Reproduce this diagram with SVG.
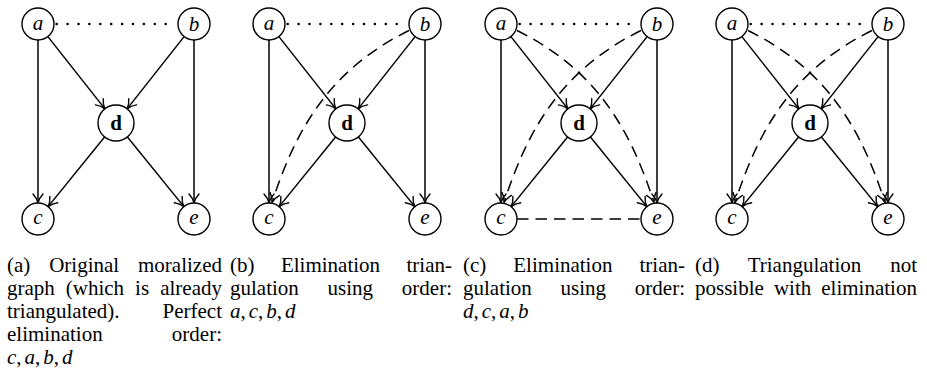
<svg xmlns="http://www.w3.org/2000/svg" width="927" height="377" viewBox="0 0 927 377" font-family="'Liberation Serif', 'DejaVu Serif', serif">
  <style>
    .node circle { fill: #fff; stroke: #000; stroke-width: 1.4; }
    .lbl { font-family: 'Liberation Serif', 'DejaVu Serif', serif; font-size: 21px; font-style: italic; text-anchor: middle; fill: #000; }
    .lbl.bold { font-style: normal; font-weight: bold; }
    .edge { fill: none; stroke: #000; stroke-width: 1.5; }
    .arrow { marker-end: url(#tip); }
    .dash { stroke-dasharray: 11.5 7; }
    .dot { stroke-dasharray: 0 10.9; stroke-linecap: round; stroke-width: 2.6; }
    .cap { font-family: 'Liberation Serif', 'DejaVu Serif', serif; font-size: 21px; fill: #000; }
    .end { text-anchor: end; }
    .it { font-style: italic; }
  </style>
  <defs>
    <!-- curved-barb arrow tip, drawn solid even on dashed edges -->
    <marker id="tip" markerUnits="userSpaceOnUse" markerWidth="14" markerHeight="14" viewBox="-11 -7 14 14" refX="0" refY="0" orient="auto" overflow="visible">
      <path d="M -9 -5 C -5.8 -2 -2 -0.5 0 0 C -2 0.5 -5.8 2 -9 5" fill="none" stroke="#000" stroke-width="1.4" stroke-linecap="round"/>
    </marker>
  </defs>

  <rect width="927" height="377" fill="#fff"/>

  <!-- (a) original moralized graph -->
  <g id="graph-a">
    <g id="edges-a">
      <path class="edge dot" d="M56.7 24 H166"/>
      <path class="edge arrow" d="M38 40 V203"/>
      <path class="edge arrow" d="M194 40 V203"/>
      <path class="edge arrow" d="M47.9 36.6 L104.9 108.9"/>
      <path class="edge arrow" d="M184.1 36.6 L127.1 108.9"/>
      <path class="edge arrow" d="M104.6 137 L48.1 206.6"/>
      <path class="edge arrow" d="M127.4 137 L183.9 206.6"/>
    </g>
    <g id="a-a" class="node"><circle cx="38" cy="24" r="16"/><text class="lbl" x="38" y="29.5">a</text></g>
    <g id="a-b" class="node"><circle cx="194" cy="24" r="16"/><text class="lbl" x="194" y="31">b</text></g>
    <g id="a-d" class="node"><circle cx="116" cy="123" r="18"/><text class="lbl bold" x="116" y="130">d</text></g>
    <g id="a-c" class="node"><circle cx="38" cy="219" r="16"/><text class="lbl" x="38" y="224">c</text></g>
    <g id="a-e" class="node"><circle cx="194" cy="219" r="16"/><text class="lbl" x="194" y="224">e</text></g>
  </g>

  <!-- (b) elimination order a, c, b, d -->
  <g id="graph-b" transform="translate(231 0)">
    <g id="edges-b">
      <path class="edge dot" d="M56.7 24 H166"/>
      <path class="edge arrow" d="M38 40 V203"/>
      <path class="edge arrow" d="M194 40 V203"/>
      <path class="edge arrow" d="M47.9 36.6 L104.9 108.9"/>
      <path class="edge arrow" d="M184.1 36.6 L127.1 108.9"/>
      <path class="edge arrow" d="M104.6 137 L48.1 206.6"/>
      <path class="edge arrow" d="M127.4 137 L183.9 206.6"/>
      <path class="edge dash arrow" d="M178 30.5 C101.5 68.3 66 125 41 202.5"/>
    </g>
    <g id="b-a" class="node"><circle cx="38" cy="24" r="16"/><text class="lbl" x="38" y="29.5">a</text></g>
    <g id="b-b" class="node"><circle cx="194" cy="24" r="16"/><text class="lbl" x="194" y="31">b</text></g>
    <g id="b-d" class="node"><circle cx="116" cy="123" r="18"/><text class="lbl bold" x="116" y="130">d</text></g>
    <g id="b-c" class="node"><circle cx="38" cy="219" r="16"/><text class="lbl" x="38" y="224">c</text></g>
    <g id="b-e" class="node"><circle cx="194" cy="219" r="16"/><text class="lbl" x="194" y="224">e</text></g>
  </g>

  <!-- (c) elimination order d, c, a, b -->
  <g id="graph-c" transform="translate(463 0)">
    <g id="edges-c">
      <path class="edge dot" d="M56.7 24 H166"/>
      <path class="edge arrow" d="M38 40 V203"/>
      <path class="edge arrow" d="M194 40 V203"/>
      <path class="edge arrow" d="M47.9 36.6 L104.9 108.9"/>
      <path class="edge arrow" d="M184.1 36.6 L127.1 108.9"/>
      <path class="edge arrow" d="M104.6 137 L48.1 206.6"/>
      <path class="edge arrow" d="M127.4 137 L183.9 206.6"/>
      <path class="edge dash arrow" d="M178 30.5 C101.5 68.3 66 125 41 202.5"/>
      <path class="edge dash arrow" d="M54 30.5 C130.5 68.3 166 125 191 202.5"/>
      <path class="edge dash" d="M54 219 H178"/>
    </g>
    <g id="c-a" class="node"><circle cx="38" cy="24" r="16"/><text class="lbl" x="38" y="29.5">a</text></g>
    <g id="c-b" class="node"><circle cx="194" cy="24" r="16"/><text class="lbl" x="194" y="31">b</text></g>
    <g id="c-d" class="node"><circle cx="116" cy="123" r="18"/><text class="lbl bold" x="116" y="130">d</text></g>
    <g id="c-c" class="node"><circle cx="38" cy="219" r="16"/><text class="lbl" x="38" y="224">c</text></g>
    <g id="c-e" class="node"><circle cx="194" cy="219" r="16"/><text class="lbl" x="194" y="224">e</text></g>
  </g>

  <!-- (d) triangulation without an elimination order -->
  <g id="graph-d" transform="translate(694 0)">
    <g id="edges-d">
      <path class="edge dot" d="M56.7 24 H166"/>
      <path class="edge arrow" d="M38 40 V203"/>
      <path class="edge arrow" d="M194 40 V203"/>
      <path class="edge arrow" d="M47.9 36.6 L104.9 108.9"/>
      <path class="edge arrow" d="M184.1 36.6 L127.1 108.9"/>
      <path class="edge arrow" d="M104.6 137 L48.1 206.6"/>
      <path class="edge arrow" d="M127.4 137 L183.9 206.6"/>
      <path class="edge dash arrow" d="M178 30.5 C101.5 68.3 66 125 41 202.5"/>
      <path class="edge dash arrow" d="M54 30.5 C130.5 68.3 166 125 191 202.5"/>
    </g>
    <g id="d-a" class="node"><circle cx="38" cy="24" r="16"/><text class="lbl" x="38" y="29.5">a</text></g>
    <g id="d-b" class="node"><circle cx="194" cy="24" r="16"/><text class="lbl" x="194" y="31">b</text></g>
    <g id="d-d" class="node"><circle cx="116" cy="123" r="18"/><text class="lbl bold" x="116" y="130">d</text></g>
    <g id="d-c" class="node"><circle cx="38" cy="219" r="16"/><text class="lbl" x="38" y="224">c</text></g>
    <g id="d-e" class="node"><circle cx="194" cy="219" r="16"/><text class="lbl" x="194" y="224">e</text></g>
  </g>

  <!-- captions, justified word by word -->
  <g id="caption-a" class="cap">
    <text x="7" y="271.5">(a)</text>
    <text x="49.2" y="271.5">Original</text>
    <text class="end" x="222" y="271.5">moralized</text>
    <text x="7" y="294.5">graph</text>
    <text x="65.8" y="294.5">(which</text>
    <text x="135.1" y="294.5">is</text>
    <text class="end" x="222" y="294.5">already</text>
    <text x="7" y="317.5">triangulated).</text>
    <text class="end" x="222" y="317.5">Perfect</text>
    <text x="7" y="340.5">elimination</text>
    <text class="end" x="222" y="340.5">order:</text>
    <text x="7" y="363.5"><tspan class="it">c</tspan>,<tspan class="it" dx="3">a</tspan>,<tspan class="it" dx="3">b</tspan>,<tspan class="it" dx="3">d</tspan></text>
  </g>
  <g id="caption-b" class="cap">
    <text x="230" y="271.5">(b)</text>
    <text x="280.9" y="271.5">Elimination</text>
    <text class="end" x="452" y="271.5">trian-</text>
    <text x="230" y="294.5">gulation</text>
    <text x="327.6" y="294.5">using</text>
    <text class="end" x="452" y="294.5">order:</text>
    <text x="230" y="317.5"><tspan class="it">a</tspan>,<tspan class="it" dx="3">c</tspan>,<tspan class="it" dx="3">b</tspan>,<tspan class="it" dx="3">d</tspan></text>
  </g>
  <g id="caption-c" class="cap">
    <text x="463" y="271.5">(c)</text>
    <text x="513.3" y="271.5">Elimination</text>
    <text class="end" x="685" y="271.5">trian-</text>
    <text x="463" y="294.5">gulation</text>
    <text x="560.6" y="294.5">using</text>
    <text class="end" x="685" y="294.5">order:</text>
    <text x="463" y="317.5"><tspan class="it">d</tspan>,<tspan class="it" dx="3">c</tspan>,<tspan class="it" dx="3">a</tspan>,<tspan class="it" dx="3">b</tspan></text>
  </g>
  <g id="caption-d" class="cap">
    <text x="695" y="271.5">(d)</text>
    <text x="747.7" y="271.5">Triangulation</text>
    <text class="end" x="917" y="271.5">not</text>
    <text x="695" y="294.5" word-spacing="4.8">possible with elimination</text>
  </g>
</svg>
